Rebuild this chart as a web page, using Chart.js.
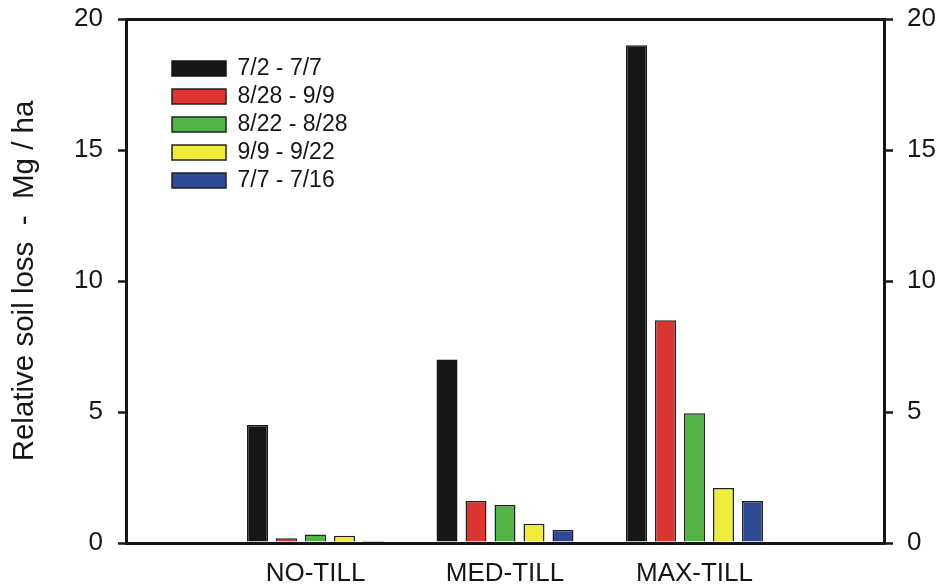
<!DOCTYPE html>
<html>
<head>
<meta charset="utf-8">
<script src="https://cdn.jsdelivr.net/npm/chart.js@4"></script>
<style>
  html, body { margin: 0; padding: 0; background: #fff; }
  #wrap { width: 936px; height: 584px; position: relative; }
</style>
</head>
<body>
<div id="wrap"><canvas id="chart-loss"></canvas></div>
<script>
// categories (empty slots at both ends give the wide side margins)
const categories = ['', 'NO-TILL', 'MED-TILL', 'MAX-TILL', ''];

// relative soil loss, Mg/ha, per rain period
const periodLabels = ['7/2 - 7/7', '8/28 - 9/9', '8/22 - 8/28', '9/9 - 9/22', '7/7 - 7/16'];
const loss_0702 = [null, 4.5, 7.0, 19.0, null];
const loss_0828 = [null, 0.18, 1.6, 8.5, null];
const loss_0822 = [null, 0.32, 1.45, 4.95, null];
const loss_0909 = [null, 0.28, 0.73, 2.1, null];
const loss_0707 = [null, 0.09, 0.5, 1.6, null];

const yTicks = [0, 5, 10, 15, 20];

const FONT = "'Liberation Sans', Arial, sans-serif";
const INK = '#161616';
const fills = ['#151617', '#dc3532', '#53b447', '#f0ec3c', '#2e4a94'];
const series = [loss_0702, loss_0828, loss_0822, loss_0909, loss_0707];

// nudge the in-plot legend away from the axes
const legendShift = {
  id: 'legendShift',
  afterLayout(chart) {
    chart.legend.left += 41;
    chart.legend.top += 52;
  }
};

function axisY(position) {
  const left = position === 'left';
  return {
    type: 'linear',
    position: position,
    min: yTicks[0],
    max: yTicks[yTicks.length - 1],
    afterBuildTicks: s => { s.ticks = yTicks.map(v => ({ value: v })); },
    afterFit: s => {
      s.width = left ? 126 : 52;
      s.paddingTop = 0;
      s.paddingBottom = 0;
    },
    ticks: {
      color: INK,
      font: { family: FONT, size: 26 },
      padding: left ? 15 : 14
    },
    grid: {
      drawOnChartArea: left,
      color: c => (c.tick && c.tick.value === 20) ? INK : 'rgba(0,0,0,0)',
      lineWidth: 3,
      tickColor: INK,
      tickWidth: 2.5,
      tickLength: left ? 8 : 9
    },
    border: { display: true, color: INK, width: 3 },
    title: left ? {
      display: true,
      text: 'Relative soil loss  -  Mg / ha',
      color: INK,
      font: { family: FONT, size: 29.5 },
      padding: { top: 7, bottom: 0 }
    } : { display: false }
  };
}

const ctx = document.getElementById('chart-loss').getContext('2d');
new Chart(ctx, {
  type: 'bar',
  data: {
    labels: categories,
    datasets: series.map((d, i) => ({
      label: periodLabels[i],
      data: d,
      backgroundColor: fills[i],
      borderColor: i === 0 ? fills[0] : '#222',
      borderWidth: 1.5,
      categoryPercentage: 0.765,
      barPercentage: 0.724,
      yAxisID: 'y'
    }))
  },
  options: {
    responsive: true,
    maintainAspectRatio: false,
    animation: false,
    layout: { padding: { top: 19, left: 0, right: 0, bottom: 0 } },
    plugins: {
      tooltip: { enabled: false },
      legend: {
        position: 'chartArea',
        align: 'start',
        labels: {
          boxWidth: 54,
          boxHeight: 15,
          padding: 5,
          color: INK,
          font: { family: FONT, size: 23 }
        }
      }
    },
    scales: {
      x: {
        type: 'category',
        offset: false,
        afterFit: s => { s.height = 41; },
        grid: { display: false },
        border: { display: true, color: INK, width: 3 },
        ticks: {
          color: INK,
          font: { family: FONT, size: 26 },
          padding: 7,
          maxRotation: 0,
          autoSkip: false
        }
      },
      y: axisY('left'),
      y2: axisY('right')
    }
  },
  plugins: [legendShift]
});
</script>
</body>
</html>
